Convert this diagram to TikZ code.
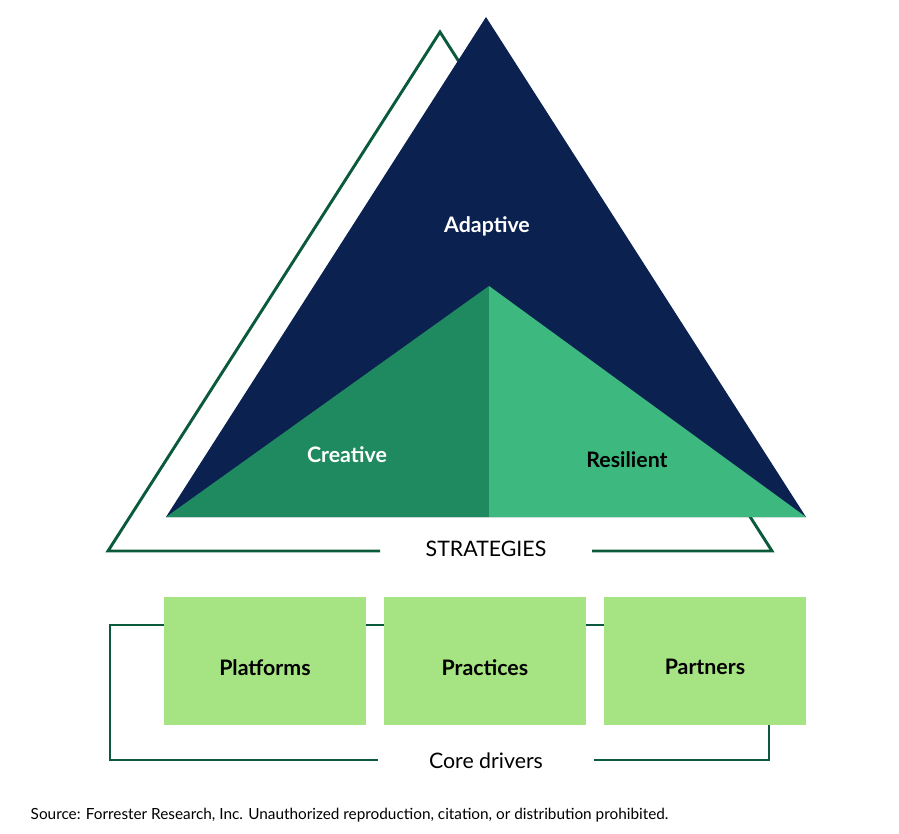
\documentclass[tikz,border=0pt]{standalone}
\usepackage{fontspec}
\setmainfont{Lato}
\begin{document}
\begin{tikzpicture}[x=0.75pt,y=-0.75pt,
  outl/.style={draw=dgreen,line width=2.2pt},
  lbl/.style={font=\bfseries\fontsize{16}{19}\selectfont},
  captxt/.style={font=\fontsize{16}{19}\selectfont},
  box/.style={fill=lgreen,minimum width=151pt,minimum height=96pt,inner sep=0pt,anchor=north west}]
\definecolor{dgreen}{HTML}{0B5A3C}
\definecolor{navy}{HTML}{0B2150}
\definecolor{mgreen}{HTML}{1F8A60}
\definecolor{tgreen}{HTML}{3DB980}
\definecolor{lgreen}{HTML}{A6E382}
\useasboundingbox (0,0) rectangle (899,834);
% outline triangle
\coordinate (oa) at (440,32);
\coordinate (ol) at (108,551);
\coordinate (or) at (772,551);
\coordinate (g1) at (380,551);
\coordinate (g2) at (592,551);
\draw[outl,line join=miter] (g1) -- (ol) -- (oa) -- (or) -- (g2);
% big triangle
\fill[navy] (486,17) -- (166,517) -- (806,517) -- cycle;
\fill[mgreen] (489,286) -- (166,517) -- (489,517) -- cycle;
\fill[tgreen] (489,286) -- (806,517) -- (489,517) -- cycle;
\node[lbl,text=white] (ad) at (487,226) {Adaptive};
\node[lbl,text=white] (cr) at (347,455) {Creative};
\node[lbl,text=black] (re) at (627,460) {Resilient};
\node[captxt] (st) at (486,549) {STRATEGIES};
% bracket
\coordinate (b1) at (164,625);
\coordinate (b2) at (110,625);
\coordinate (b3) at (110,760);
\coordinate (b4) at (378,760);
\coordinate (b5) at (594,760);
\coordinate (b6) at (769,760);
\coordinate (b7) at (769,725);
\draw[outl] (b4) -- (b3) -- (b2) -- (b1);
\draw[outl] (b5) -- (b6) -- (b7);
\draw[outl] (365,625) -- (384,625);
\draw[outl] (585,625) -- (604,625);
\node[box] (pl) at (164,597) {};
\node[box] (pr) at (384,597) {};
\node[box] (pa) at (604,597) {};
\node[lbl] (tpl) at ([yshift=-4.5pt]pl.center) {Platforms};
\node[lbl] (tpr) at ([yshift=-4.5pt]pr.center) {Practices};
\node[lbl] (tpa) at ([yshift=-4.5pt]pa.center) {Partners};
\node[captxt] (cd) at (486,761) {Core drivers};
\node[anchor=west,font=\fontsize{11.5}{13}\selectfont] (src) at (26,815) {Source: Forrester Research, Inc. Unauthorized reproduction, citation, or distribution prohibited.};
\end{tikzpicture}
\end{document}
